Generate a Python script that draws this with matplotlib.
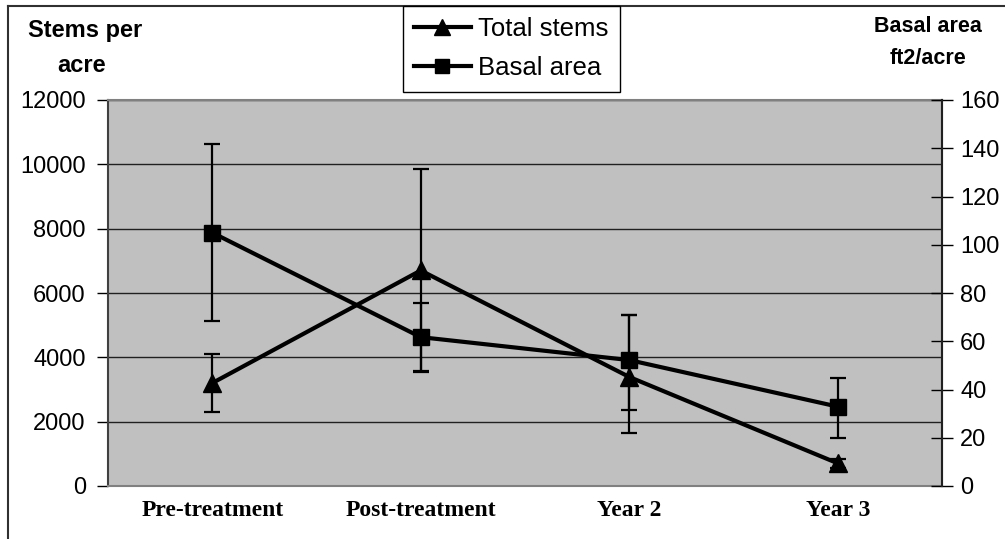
import matplotlib
matplotlib.use("Agg")
import matplotlib.pyplot as plt
from matplotlib.lines import Line2D
import numpy as np

categories = ["Pre-treatment", "Post-treatment", "Year 2", "Year 3"]

# Total stems per acre (left axis)
stems = [3200, 6700, 3390, 705]
stems_err_low = [910, 3150, 1750, 135]
stems_err_high = [910, 3150, 1920, 135]

# Basal area ft2/acre (right axis)
basal = [105.0, 61.7, 52.2, 32.9]
basal_err_low = [36.7, 14.0, 20.7, 12.9]
basal_err_high = [36.7, 14.0, 18.7, 11.7]

left_ticks = [0, 2000, 4000, 6000, 8000, 10000, 12000]
right_ticks = [0, 20, 40, 60, 80, 100, 120, 140, 160]

plt.rcParams['font.family'] = ['Liberation Sans', 'DejaVu Sans']

W, H = 1005, 539
fig = plt.figure(figsize=(W / 100, H / 100), dpi=100)
fig.patch.set_facecolor('white')

ax = fig.add_axes([108 / W, 1 - 486 / H, (942 - 108) / W, (486 - 100) / H])
ax.set_facecolor('#C0C0C0')
x = np.arange(len(categories))

ax.set_xlim(-0.5, len(categories) - 0.5)
ax.set_ylim(0, 12000)
ax.set_yticks(left_ticks)
ax.set_yticklabels([str(t) for t in left_ticks], fontsize=17)
ax.yaxis.grid(True, color='#202020', linewidth=1.0)
ax.set_axisbelow(True)
ax.tick_params(axis='y', direction='out', length=8, width=1, pad=8, colors='black')
ax.set_xticks(x)
ax.set_xticklabels(categories, fontsize=17, fontweight='bold', family='Liberation Serif')
ax.tick_params(axis='x', length=0, pad=10)
for s in ['top', 'right', 'bottom']:
    ax.spines[s].set_color('#808080')
    ax.spines[s].set_linewidth(1.5)
ax.spines['left'].set_color('#404040')
ax.spines['left'].set_linewidth(1.5)

ax.errorbar(x, stems, yerr=[stems_err_low, stems_err_high], fmt='none',
            ecolor='black', elinewidth=1.6, capsize=5.8, capthick=1.6, zorder=3)
ax.plot(x, stems, color='black', linewidth=3, marker='^', markersize=13, zorder=4)

ax2 = ax.twinx()
ax2.set_ylim(0, 160)
ax2.set_yticks(right_ticks)
ax2.set_yticklabels([str(t) for t in right_ticks], fontsize=17)
ax2.tick_params(axis='y', direction='inout', length=16, width=1, pad=5, colors='black')
ax2.spines['right'].set_color('#202020')
ax2.spines['right'].set_linewidth(1.5)
for s in ['top', 'left', 'bottom']:
    ax2.spines[s].set_visible(False)
ax2.errorbar(x, basal, yerr=[basal_err_low, basal_err_high], fmt='none',
             ecolor='black', elinewidth=1.6, capsize=5.8, capthick=1.6, zorder=3)
ax2.plot(x, basal, color='black', linewidth=3, marker='s', markersize=11, zorder=4)

# Axis titles
fig.text(85 / W, 1 - 31 / H, "Stems per", ha='center', va='center', fontsize=17, fontweight='bold')
fig.text(82 / W, 1 - 66 / H, "acre", ha='center', va='center', fontsize=17, fontweight='bold')
fig.text(928 / W, 1 - 26 / H, "Basal area", ha='center', va='center', fontsize=15.5, fontweight='bold')
fig.text(928 / W, 1 - 58 / H, "ft2/acre", ha='center', va='center', fontsize=15.5, fontweight='bold')

# Legend
handles = [
    Line2D([], [], color='black', linewidth=3, marker='^', markersize=12),
    Line2D([], [], color='black', linewidth=3, marker='s', markersize=10),
]
leg = fig.legend(handles, ["Total stems", "Basal area"], loc='upper left',
                 bbox_to_anchor=(403 / W, 1 - 6 / H), fontsize=18.5, frameon=True,
                 fancybox=False, edgecolor='black', framealpha=1,
                 handlelength=2.2, handletextpad=0.3, labelspacing=0.6,
                 borderpad=0.43, borderaxespad=0)
leg.get_frame().set_linewidth(1.0)

# Figure border (chart area)
fig.add_artist(Line2D([8 / W, 8 / W], [0, 1 - 6 / H], color='#303030', linewidth=1.5))
fig.add_artist(Line2D([8 / W, 1], [1 - 6 / H, 1 - 6 / H], color='#303030', linewidth=1.5))

fig.savefig("out.png", dpi=100)
